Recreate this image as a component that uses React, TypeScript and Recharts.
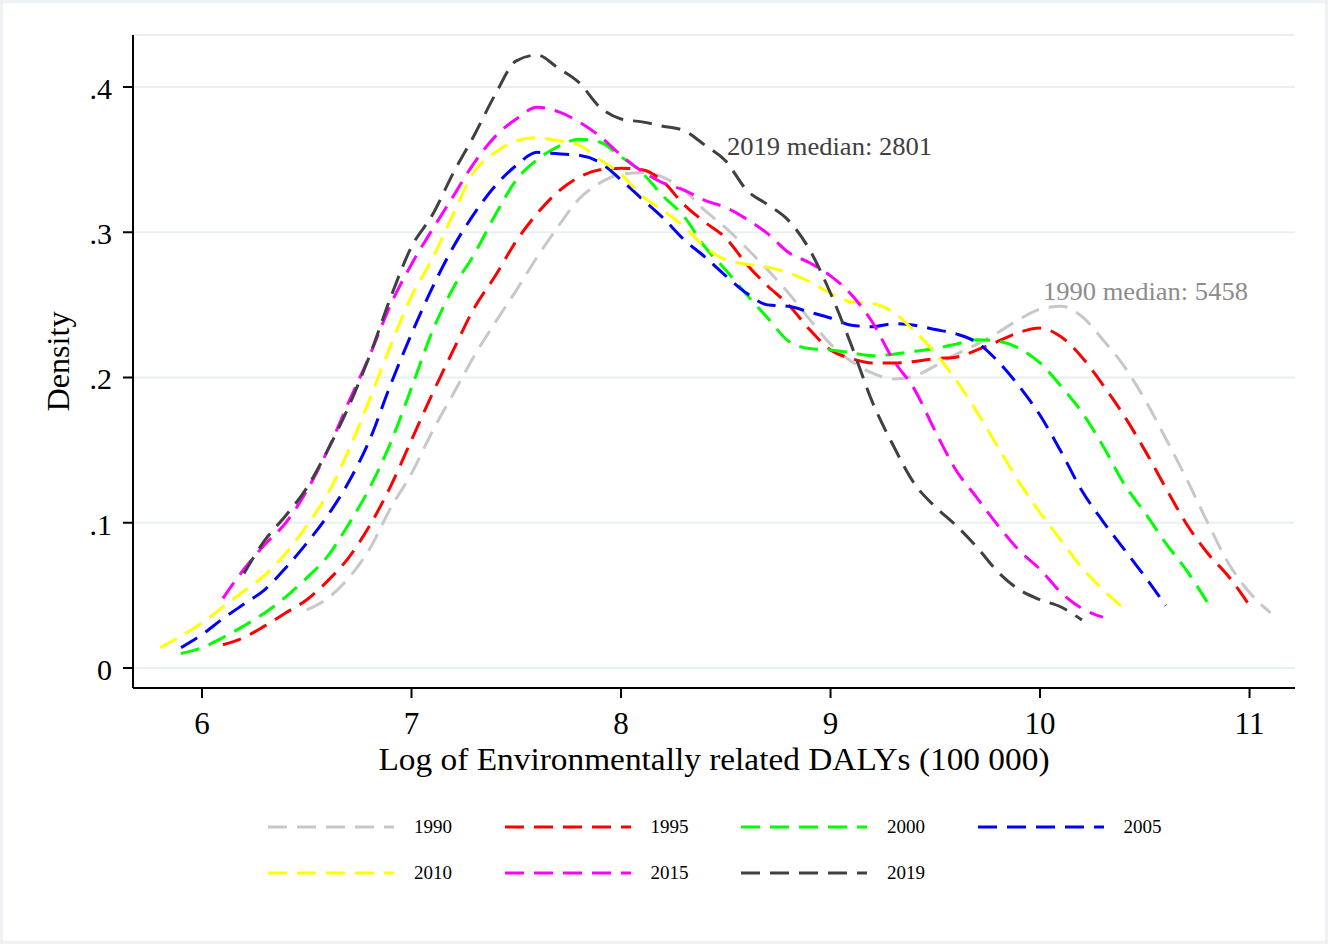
import React from "react";
import { LineChart, Line, XAxis, YAxis, CartesianGrid, ReferenceDot } from "recharts";

// shared x grid (log DALYs), step 0.1
const xGrid = [
  5.8, 5.9, 6.0, 6.1, 6.2, 6.3, 6.4, 6.5, 6.6, 6.7, 6.8, 6.9, 7.0, 7.1, 7.2, 7.3, 7.4, 7.5,
  7.6, 7.7, 7.8, 7.9, 8.0, 8.1, 8.2, 8.3, 8.4, 8.5, 8.6, 8.7, 8.8, 8.9, 9.0, 9.1, 9.2, 9.3,
  9.4, 9.5, 9.6, 9.7, 9.8, 9.9, 10.0, 10.1, 10.2, 10.3, 10.4, 10.5, 10.6, 10.7, 10.8, 10.9,
  11.0, 11.1,
];

const _ = null;

// kernel densities, one value per grid point
const d1990 = [
  _, _, _, _, _, _, _, 0.040, 0.048, 0.062, 0.082, 0.110, 0.134, 0.163, 0.189, 0.215, 0.238, 0.260,
  0.283, 0.304, 0.323, 0.334, 0.340, 0.341, 0.338, 0.329, 0.315, 0.303, 0.289, 0.274, 0.258, 0.240, 0.223, 0.211, 0.203, 0.199,
  0.201, 0.208, 0.216, 0.223, 0.231, 0.240, 0.247, 0.249, 0.242, 0.226, 0.208, 0.185, 0.158, 0.130, 0.100, 0.072,
  0.052, 0.038,
];
const d1995 = [
  _, _, _, 0.016, 0.021, 0.029, 0.038, 0.047, 0.060, 0.076, 0.098, 0.125, 0.157, 0.189, 0.219, 0.248, 0.270, 0.294,
  0.313, 0.328, 0.338, 0.343, 0.344, 0.343, 0.335, 0.319, 0.307, 0.296, 0.278, 0.263, 0.250, 0.233, 0.219, 0.213, 0.210, 0.210,
  0.211, 0.213, 0.214, 0.219, 0.225, 0.231, 0.234, 0.228, 0.214, 0.195, 0.174, 0.150, 0.124, 0.099, 0.079, 0.063,
  0.043, _,
];
const d2000 = [
  _, 0.010, 0.014, 0.021, 0.029, 0.038, 0.049, 0.062, 0.077, 0.099, 0.124, 0.155, 0.193, 0.232, 0.262, 0.285, 0.312, 0.336,
  0.350, 0.359, 0.364, 0.362, 0.352, 0.341, 0.325, 0.311, 0.290, 0.274, 0.257, 0.241, 0.225, 0.220, 0.219, 0.217, 0.215, 0.216,
  0.218, 0.220, 0.223, 0.226, 0.225, 0.220, 0.210, 0.194, 0.176, 0.153, 0.127, 0.107, 0.086, 0.067, 0.045, _,
  _, _,
];
const d2005 = [
  _, 0.014, 0.023, 0.034, 0.044, 0.054, 0.069, 0.086, 0.105, 0.128, 0.157, 0.195, 0.230, 0.262, 0.290, 0.313, 0.332, 0.346,
  0.355, 0.354, 0.353, 0.348, 0.336, 0.323, 0.310, 0.295, 0.283, 0.270, 0.258, 0.250, 0.249, 0.245, 0.241, 0.236, 0.235, 0.237,
  0.236, 0.233, 0.230, 0.224, 0.211, 0.194, 0.174, 0.149, 0.122, 0.101, 0.082, 0.063, 0.043, _, _, _,
  _, _,
];
const d2010 = [
  0.014, 0.022, 0.031, 0.042, 0.053, 0.064, 0.079, 0.098, 0.120, 0.150, 0.185, 0.222, 0.256, 0.282, 0.313, 0.342, 0.355, 0.363,
  0.365, 0.363, 0.360, 0.350, 0.340, 0.325, 0.315, 0.304, 0.290, 0.281, 0.278, 0.276, 0.272, 0.266, 0.258, 0.252, 0.251, 0.245,
  0.232, 0.217, 0.198, 0.176, 0.152, 0.128, 0.107, 0.088, 0.069, 0.054, 0.041, _, _, _, _, _,
  _, _,
];
const d2015 = [
  _, _, _, 0.048, 0.068, 0.085, 0.100, 0.122, 0.150, 0.183, 0.215, 0.250, 0.278, 0.302, 0.325, 0.348, 0.366, 0.378,
  0.386, 0.383, 0.376, 0.366, 0.353, 0.342, 0.334, 0.329, 0.322, 0.317, 0.309, 0.299, 0.286, 0.279, 0.270, 0.257, 0.238, 0.212,
  0.192, 0.163, 0.136, 0.117, 0.098, 0.081, 0.068, 0.052, 0.041, 0.035, _, _, _, _, _, _,
  _, _,
];
const d2019 = [
  _, _, _, _, 0.065, 0.088, 0.105, 0.124, 0.150, 0.180, 0.215, 0.255, 0.290, 0.312, 0.341, 0.367, 0.395, 0.418,
  0.422, 0.413, 0.403, 0.386, 0.378, 0.376, 0.373, 0.370, 0.360, 0.349, 0.329, 0.319, 0.308, 0.288, 0.258, 0.222, 0.183, 0.153,
  0.127, 0.111, 0.098, 0.083, 0.066, 0.054, 0.047, 0.042, 0.033, _, _, _, _, _, _, _,
  _, _,
];

const years = ["1990", "1995", "2000", "2005", "2010", "2015", "2019"];
const seriesValues = [d1990, d1995, d2000, d2005, d2010, d2015, d2019];
const colors = ["#c8c8c8", "#ff0000", "#00ff00", "#0000ff", "#ffff00", "#ff00ff", "#404040"];

const xTicks = [6, 7, 8, 9, 10, 11];
const yTicks = [0, 0.1, 0.2, 0.3, 0.4];

const notes = [
  { x: 8.506, y: 0.359, text: "2019 median: 2801", color: "#404040" },
  { x: 10.014, y: 0.259, text: "1990 median: 5458", color: "#8c8c8c" },
];

const data = xGrid.map((x, i) => {
  const row: Record<string, number | null> = { x };
  years.forEach((yr, k) => {
    row["y" + yr] = seriesValues[k][i];
  });
  return row;
});

const FONT = "'Liberation Serif', 'Times New Roman', serif";
const DASH = "19 10";

const fmtY = (v: number) => (v === 0 ? "0" : String(v).replace(/^0/, ""));

const XTick = ({ x, y, payload }: any) => (
  <text x={x} y={y + 32} textAnchor="middle" fontFamily={FONT} fontSize={31} fill="#000">
    {payload.value}
  </text>
);

const YTick = ({ x, y, payload }: any) => (
  <text x={x} y={y + 12} textAnchor="end" fontFamily={FONT} fontSize={30} fill="#000">
    {fmtY(payload.value)}
  </text>
);

const YLabel = ({ viewBox }: any) => {
  const cx = viewBox.x + 25;
  const cy = viewBox.y + viewBox.height / 2;
  return (
    <text x={cx} y={cy} transform={`rotate(-90 ${cx} ${cy})`} textAnchor="middle" dominantBaseline="central"
      fontFamily={FONT} fontSize={31} textLength={100} lengthAdjust="spacingAndGlyphs" fill="#000">
      Density
    </text>
  );
};

const XLabel = ({ viewBox }: any) => (
  <text x={viewBox.x + viewBox.width / 2} y={viewBox.y + 82} textAnchor="middle" fontFamily={FONT} fontSize={31}
    textLength={671} lengthAdjust="spacingAndGlyphs" fill="#000">
    Log of Environmentally related DALYs (100 000)
  </text>
);

const noteLabel = (text: string, color: string) => ({ viewBox }: any) => (
  <text x={viewBox.x} y={viewBox.y} dominantBaseline="central" fontFamily={FONT} fontSize={25}
    textLength={205} lengthAdjust="spacingAndGlyphs" fill={color}>
    {text}
  </text>
);

const ChartLegend = () => (
  <div style={{ position: "absolute", left: 0, top: 800, width: 1328, height: 100 }}>
    {years.map((yr, k) => {
      const col = k % 4;
      const row = Math.floor(k / 4);
      return (
        <div key={yr} style={{ position: "absolute", left: 268 + col * 236.5, top: 14 + row * 46, height: 26, width: 200 }}>
          <svg width={130} height={26} style={{ position: "absolute", left: 0, top: 0 }}>
            <line x1={0} y1={13} x2={126} y2={13} stroke={colors[k]} strokeWidth={3} strokeDasharray={DASH} />
          </svg>
          <span style={{ position: "absolute", left: 146, top: 0, lineHeight: "26px", fontFamily: FONT, fontSize: 19, color: "#000" }}>
            {yr}
          </span>
        </div>
      );
    })}
  </div>
);

export default function App() {
  return (
    <div style={{ position: "absolute", left: 0, top: 0, width: 1328, height: 944, background: "#eef2f4" }}>
      <div style={{ position: "absolute", left: 3, top: 3, width: 1322, height: 938, background: "#fff" }} />
      <div style={{ position: "absolute", left: 0, top: 0 }}>
        <LineChart width={1328} height={944} data={data} margin={{ top: 35, right: 33, left: 33, bottom: 196 }}>
          <CartesianGrid horizontal vertical={false} stroke="#eaf0f2" strokeWidth={2} />
          <XAxis
            dataKey="x"
            type="number"
            domain={[5.6706, 11.217]}
            ticks={xTicks}
            allowDataOverflow
            height={60}
            stroke="#000"
            strokeWidth={2}
            tickSize={10}
            tickMargin={4}
            tick={<XTick />}
            label={<XLabel />}
          />
          <YAxis
            type="number"
            domain={[-0.01377, 0.4358]}
            ticks={yTicks}
            allowDataOverflow
            width={100}
            stroke="#000"
            strokeWidth={2}
            tickSize={10}
            tickMargin={11}
            tick={<YTick />}
            label={<YLabel />}
          />
          {years.map((yr, k) => (
            <Line
              key={yr}
              type="monotone"
              dataKey={"y" + yr}
              stroke={colors[k]}
              strokeWidth={3}
              strokeDasharray={DASH}
              dot={false}
              activeDot={false}
              isAnimationActive={false}
              connectNulls={false}
            />
          ))}
          {notes.map((n) => (
            <ReferenceDot key={n.text} x={n.x} y={n.y} r={0} stroke="none" fill="none" label={noteLabel(n.text, n.color)} />
          ))}
        </LineChart>
      </div>
      <ChartLegend />
    </div>
  );
}
